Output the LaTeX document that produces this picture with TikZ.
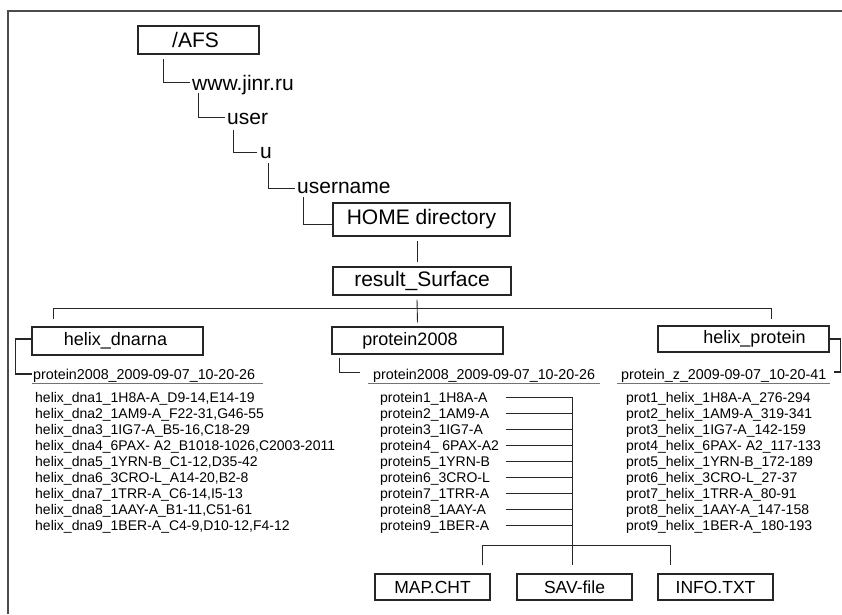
\documentclass[tikz,border=0pt]{standalone}
\usepackage{fontspec}
\setmainfont{Liberation Sans}
\usetikzlibrary{calc}
\begin{document}
\begin{tikzpicture}[x=1pt,y=-1pt,
  ln/.style={draw=black!85, line width=0.9pt},
  ul/.style={draw=black!55, line width=0.9pt},
  box/.style={draw=black!85, line width=1.1pt, inner sep=0pt, align=center},
  bigf/.style={font=\fontsize{21}{21}\selectfont},
  midf/.style={font=\fontsize{18}{18}\selectfont},
  botf/.style={font=\fontsize{17.5}{17.5}\selectfont},
  big/.style={bigf, inner sep=0pt, anchor=base west},
  sub/.style={font=\fontsize{14.3}{16}\selectfont, inner sep=0pt, anchor=base west, text height=10pt, text depth=0pt},
  lst/.style={font=\fontsize{14}{16}\selectfont, inner sep=0pt, anchor=base west, text height=10pt, text depth=0pt},
  ]
\useasboundingbox (0,0) rectangle (842,614);
% frame
\draw[line width=1.5pt, black!70] (8,614) -- (8,11) -- (842,11);

% top path
\node[box, bigf, minimum width=121pt, minimum height=28pt] (afs) at (198.5,40) {/AFS\hspace*{6pt}};
\node[big] (www) at (192,90.5) {www.jinr.ru};
\node[big] (user) at (227,124) {user};
\node[big] (u) at (260,158) {u};
\node[big] (uname) at (297,193) {username};
\node[box, bigf, minimum width=177pt, minimum height=33pt] (home) at (421.5,219.5) {HOME directory};
\node[box, bigf, minimum width=178pt, minimum height=28pt] (res) at (422,281) {result\_Surface};

\draw[ln] ([shift={(-35.5,4)}]afs.south) |- ([shift={(-2,-8)}]www.base west);
\draw[ln] ([shift={(6,2)}]www.base west) |- ([shift={(-2,-7)}]user.base west);
\draw[ln] ([shift={(6,6)}]user.base west) |- ([shift={(-3,-6)}]u.base west);
\draw[ln] ([shift={(8,5)}]u.base west) |- ([shift={(-2,-5)}]uname.base west);
\draw[ln] ([shift={(6,4)}]uname.base west) |- ([shift={(0,4.5)}]home.west);
\draw[ln] ([shift={(-4.5,4)}]home.south) -- ([shift={(-5,-4)}]res.north);

% second level boxes
\node[box, midf, minimum width=171pt, minimum height=28pt] (dna) at (117.5,341) {helix\_dnarna\hspace*{4pt}};
\node[box, midf, minimum width=171pt, minimum height=27pt] (pro) at (417.5,340.5) {protein2008\hspace*{15pt}};
\node[box, midf, minimum width=171pt, minimum height=26pt] (hp) at (743.5,339) {\hspace*{22pt}helix\_protein};

\draw[ln] ([shift={(-5,4)}]res.south) -- ([shift={(0,-4)}]pro.north);
\coordinate (barL) at (53,308);
\coordinate (barR) at (771,308);
\draw[ln] ([shift={(0,-7)}]dna.north -| barL) -- (barL) -- (barR) -- ([shift={(0,-6)}]hp.north -| barR);

% sub labels
\node[sub] (s1) at (33,379) {protein2008\_2009-09-07\_10-20-26};
\node[sub] (s2) at (373,379) {protein2008\_2009-09-07\_10-20-26};
\node[sub] (s3) at (621,379) {protein\_z\_2009-09-07\_10-20-41};

\draw[ul] ([shift={(-1,4)}]s1.base west) -- ([shift={(8,4)}]s1.base east);
\draw[ul] ([shift={(-5,4)}]s2.base west) -- ([shift={(5,4)}]s2.base east);
\draw[ul] ([shift={(-4,4)}]s3.base west) -- ([shift={(3,4)}]s3.base east);

\draw[ln, line width=1.3pt] ([shift={(0,-2)}]dna.west) -- ++(-16,0) |- ([shift={(-1,0)}]s1.west);
\draw[ln] ([shift={(-78.5,3)}]pro.south) |- ([shift={(-13,-2)}]s2.west);
\draw[ln, line width=1.3pt] (hp.east) -- ++(11,0) |- ([shift={(7,-2)}]s3.east);

% lists
\foreach \t [count=\i] in {
  {helix\_dna1\_1H8A-A\_D9-14,E14-19},
  {helix\_dna2\_1AM9-A\_F22-31,G46-55},
  {helix\_dna3\_1IG7-A\_B5-16,C18-29},
  {helix\_dna4\_6PAX- A2\_B1018-1026,C2003-2011},
  {helix\_dna5\_1YRN-B\_C1-12,D35-42},
  {helix\_dna6\_3CRO-L\_A14-20,B2-8},
  {helix\_dna7\_1TRR-A\_C6-14,I5-13},
  {helix\_dna8\_1AAY-A\_B1-11,C51-61},
  {helix\_dna9\_1BER-A\_C4-9,D10-12,F4-12}}
  \node[lst] (d\i) at (35,{402+16*(\i-1)}) {\t};

\foreach \t [count=\i] in {
  {protein1\_1H8A-A},
  {protein2\_1AM9-A},
  {protein3\_1IG7-A},
  {protein4\_ 6PAX-A2},
  {protein5\_1YRN-B},
  {protein6\_3CRO-L},
  {protein7\_1TRR-A},
  {protein8\_1AAY-A},
  {protein9\_1BER-A}}
  \node[lst] (p\i) at (380,{402+16*(\i-1)}) {\t};

\foreach \t [count=\i] in {
  {prot1\_helix\_1H8A-A\_276-294},
  {prot2\_helix\_1AM9-A\_319-341},
  {prot3\_helix\_1IG7-A\_142-159},
  {prot4\_helix\_6PAX- A2\_117-133},
  {prot5\_helix\_1YRN-B\_172-189},
  {prot6\_helix\_3CRO-L\_27-37},
  {prot7\_helix\_1TRR-A\_80-91},
  {prot8\_helix\_1AAY-A\_147-158},
  {prot9\_helix\_1BER-A\_180-193}}
  \node[lst] (r\i) at (626,{402+16*(\i-1)}) {\t};

% bottom boxes
\node[box, botf, minimum width=115pt, minimum height=26pt] (map) at (432.5,587) {MAP.CHT};
\node[box, botf, minimum width=115pt, minimum height=26pt] (sav) at (574.5,587) {SAV-file};
\node[box, botf, minimum width=115pt, minimum height=26pt] (info) at (715.5,587) {INFO.TXT};

\coordinate (lst0) at (506,0);
\coordinate (bus) at (572,0);
\foreach \i in {1,...,9}
  \draw[ln] (p\i.west -| lst0) -- (p\i.west -| bus);
\draw[ln] (p1.west -| bus) -- ([shift={(0,-8)}]sav.north -| bus);

\coordinate (brL) at (482,545);
\coordinate (brR) at (670,545);
\draw[ln] ([shift={(0,-8)}]map.north -| brL) -- (brL) -- (brR) -- ([shift={(0,-8)}]info.north -| brR);
\end{tikzpicture}
\end{document}
